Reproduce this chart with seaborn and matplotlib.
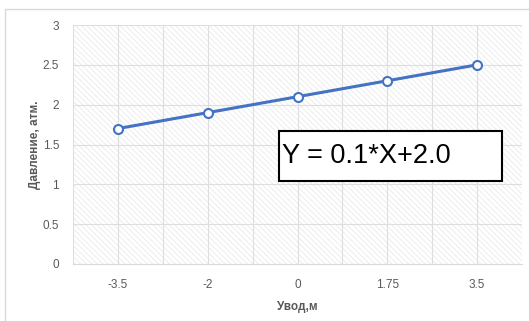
import numpy as np
import pandas as pd
import matplotlib
matplotlib.use('Agg')
import matplotlib.pyplot as plt
import seaborn as sns
from matplotlib.patches import Rectangle

# данные
categories = ['-3.5', '-2', '0', '1.75', '3.5']
pressure = [1.7, 1.9, 2.1, 2.3, 2.5]
y_ticks = [0, 0.5, 1, 1.5, 2, 2.5, 3]
y_tick_labels = ['0', '0.5', '1', '1.5', '2', '2.5', '3']

df = pd.DataFrame({'pos': np.arange(len(categories)), 'pressure': pressure})

sns.set_style('white')
plt.rcParams['font.family'] = ['Liberation Sans', 'DejaVu Sans']
plt.rcParams['hatch.linewidth'] = 0.5

fig = plt.figure(figsize=(5.29, 3.21), dpi=100)
ax = fig.add_axes([73 / 529, 1 - 264 / 321, (522 - 73) / 529, (264 - 25) / 321])

# рамка диаграммы
fig.patches.append(Rectangle((5 / 529, -0.1), 1.2, 1.1 - 9 / 321, transform=fig.transFigure,
                             fill=False, edgecolor='#d9d9d9', linewidth=1.0))

# штриховка фона
ax.add_patch(Rectangle((0, 0), 1, 1, transform=ax.transAxes, facecolor='white',
                       edgecolor='#e6e6e6', hatch='\\' * 6, linewidth=0, zorder=0))

sns.lineplot(data=df, x='pos', y='pressure', ax=ax, color='#4472c4', linewidth=2.2,
             marker='o', markersize=6.5, markerfacecolor='white',
             markeredgecolor='#4472c4', markeredgewidth=1.5, zorder=3)

ax.set_xlim(-0.5, 4.5)
ax.set_ylim(0, 3)
ax.set_xticks(np.arange(len(categories)))
ax.set_xticklabels(categories)
ax.set_xticks(np.arange(-0.5, 5, 0.5), minor=True)
ax.set_yticks(y_ticks)
ax.set_yticklabels(y_tick_labels)
ax.grid(True, which='both', axis='x', color='#dedede', linewidth=0.8, zorder=1)
ax.grid(True, which='major', axis='y', color='#dedede', linewidth=0.8, zorder=1)
ax.set_axisbelow(True)
ax.tick_params(axis='x', which='both', length=0, labelsize=8.5, labelcolor='#595959', pad=11)
ax.tick_params(axis='y', which='both', length=0, labelsize=8.5, labelcolor='#595959', pad=10)
for s in ['top', 'right', 'left']:
    ax.spines[s].set_visible(False)
ax.spines['bottom'].set_color('#d9d9d9')

ax.set_xlabel('Увод,м', fontsize=8.5, fontweight='bold', color='#595959', labelpad=7)
ax.set_ylabel('Давление, атм.', fontsize=8.5, fontweight='bold', color='#595959', labelpad=1)

# уравнение
fig.text(282 / 529, 1 - 156 / 321, 'Y = 0.1*X+2.0', fontsize=19.5, color='black',
         ha='left', va='center', zorder=5)
fig.patches.append(Rectangle((279 / 529, 1 - 181 / 321), (502 - 279) / 529, 50 / 321,
                             transform=fig.transFigure, facecolor='white',
                             edgecolor='black', linewidth=1.5, zorder=4))

plt.savefig('out.png', dpi=100)
plt.close()
